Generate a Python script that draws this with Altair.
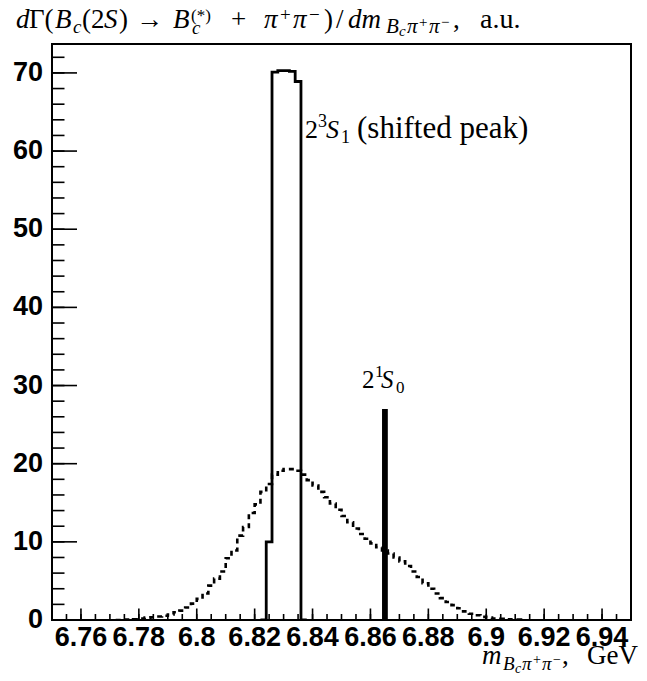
import altair as alt
import pandas as pd

# ---------------- data ----------------
# dotted histogram (broad distribution), bin width 0.002 GeV
dot_start = 6.774
dot_width = 0.002
dot_values = [0.05, 0.05, 0.1, 0.2, 0.3, 0.35, 0.45, 0.55, 0.7, 1.0,
              1.2, 1.6, 2.1, 2.7, 3.4, 4.4, 5.3, 6.2, 7.9, 8.9,
              10.8, 11.9, 13.7, 14.8, 16.4, 17.4, 18.6, 19.1, 19.3, 19.3,
              19.1, 18.6, 17.9, 17.2, 16.4, 15.7, 14.9, 14.1, 13.3, 12.5,
              11.7, 11.0, 10.4, 9.8, 9.3, 8.9, 8.5, 8.0, 7.5, 6.9,
              6.2, 5.5, 4.7, 4.0, 3.4, 2.8, 2.3, 1.9, 1.5, 1.1,
              0.8, 0.6, 0.4, 0.3, 0.2, 0.15, 0.1, 0.08, 0.05]

# solid histogram (2^3S_1 shifted peak)
solid_edges = [6.822, 6.824, 6.826, 6.828, 6.830, 6.832, 6.834, 6.836, 6.838]
solid_values = [0, 10.0, 70.1, 70.3, 70.3, 70.2, 68.9, 0, 0]

# 2^1S_0 line
line_lo, line_hi, line_val = 6.864, 6.866, 27.0

x_tick_vals = [6.76, 6.78, 6.80, 6.82, 6.84, 6.86, 6.88, 6.90, 6.92, 6.94]
x_tick_text = ["6.76", "6.78", "6.8", "6.82", "6.84", "6.86", "6.88", "6.9", "6.92", "6.94"]
y_tick_vals = [0, 10, 20, 30, 40, 50, 60, 70]
y_tick_text = ["0", "10", "20", "30", "40", "50", "60", "70"]

# ---------------- tables ----------------
dot_edges = [round(dot_start + i * dot_width, 4) for i in range(len(dot_values) + 1)]
df_dot = pd.DataFrame({
    "m": [dot_start - dot_width] + dot_edges,
    "v": [0.0] + dot_values + [0.0],
})
df_solid = pd.DataFrame({"m": solid_edges, "v": solid_values})
df_line = pd.DataFrame({"x0": [line_lo], "x1": [line_hi], "y0": [0], "y1": [line_val]})

x_minor = [round(6.755 + 0.005 * i, 4) for i in range(39)]
y_minor = [2 * i for i in range(37)]
df_xmaj = pd.DataFrame({"v": x_tick_vals, "t": x_tick_text})
df_xmin = pd.DataFrame({"v": x_minor})
df_ymaj = pd.DataFrame({"v": y_tick_vals, "t": y_tick_text})
df_ymin = pd.DataFrame({"v": y_minor})
one = pd.DataFrame({"a": [0]})

W, H = 579, 576
OX, OY = 52, 44  # page position of plot origin
xs = alt.Scale(domain=[6.75, 6.95], nice=False, zero=False)
ys = alt.Scale(domain=[0, 73.7], nice=False, zero=False)

layers = []
layers.append(
    alt.Chart(df_dot).mark_line(interpolate="step-after", strokeDash=[5, 4],
                                strokeWidth=2.6, color="black", clip=True)
    .encode(x=alt.X("m:Q", scale=xs, axis=None), y=alt.Y("v:Q", scale=ys, axis=None))
)
layers.append(
    alt.Chart(df_solid).mark_line(interpolate="step-after", strokeWidth=2.8,
                                  color="black", clip=True)
    .encode(x=alt.X("m:Q", scale=xs, axis=None), y=alt.Y("v:Q", scale=ys, axis=None))
)
layers.append(
    alt.Chart(df_line).mark_rect(color="black")
    .encode(x=alt.X("x0:Q", scale=xs, axis=None), x2="x1:Q",
            y=alt.Y("y0:Q", scale=ys, axis=None), y2="y1:Q")
)
# inward ticks
layers.append(
    alt.Chart(df_xmaj).mark_rule(color="black", strokeWidth=1.6)
    .encode(x=alt.X("v:Q", scale=xs, axis=None), y=alt.value(H), y2=alt.value(H - 11.5))
)
layers.append(
    alt.Chart(df_xmin).mark_rule(color="black", strokeWidth=1.6)
    .encode(x=alt.X("v:Q", scale=xs, axis=None), y=alt.value(H), y2=alt.value(H - 6))
)
layers.append(
    alt.Chart(df_ymaj).mark_rule(color="black", strokeWidth=1.6)
    .encode(y=alt.Y("v:Q", scale=ys, axis=None), x=alt.value(0), x2=alt.value(25))
)
layers.append(
    alt.Chart(df_ymin).mark_rule(color="black", strokeWidth=1.6)
    .encode(y=alt.Y("v:Q", scale=ys, axis=None), x=alt.value(0), x2=alt.value(12.5))
)
# tick labels
layers.append(
    alt.Chart(df_xmaj).mark_text(font="Liberation Sans", fontWeight="bold", fontSize=27,
                                 align="center", baseline="alphabetic", color="black")
    .encode(x=alt.X("v:Q", scale=xs, axis=None), y=alt.value(602), text="t:N")
)
layers.append(
    alt.Chart(df_ymaj).mark_text(font="Liberation Sans", fontWeight="bold", fontSize=27,
                                 align="right", baseline="middle", color="black")
    .encode(y=alt.Y("v:Q", scale=ys, axis=None), x=alt.value(-9), text="t:N")
)

# text pieces (math typeset piece by piece): text, page x, page baseline y, size, italic
IT, RM = True, False
pieces = [
    # title
    ("d", 16, 27.5, 27, IT), ("Γ(", 29, 27.5, 27, RM), ("B", 55, 27.5, 27, IT),
    ("c", 73, 32.5, 19, IT), ("(2", 82, 27.5, 27, RM), ("S", 104, 27.5, 27, IT),
    (")", 119, 27.5, 27, RM), ("→", 136, 27.5, 27, RM), ("B", 173, 27.5, 27, IT),
    ("(*)", 191, 20.5, 17, RM), ("c", 192, 33.5, 19, IT), ("+", 231, 27.5, 27, RM),
    ("π", 264, 27.5, 27, IT), ("+", 280, 20.5, 19, RM), ("π", 293, 27.5, 27, IT),
    ("−", 309, 20.5, 19, RM), (")", 324, 27.5, 27, RM), ("/", 336, 27.5, 27, RM),
    ("dm", 348, 27.5, 27, IT),
    ("B", 386, 33, 21, IT), ("c", 399, 36, 15, IT), ("π", 407, 33, 21, IT),
    ("+", 419, 27, 15, RM), ("π", 429, 33, 21, IT), ("−", 441, 27, 15, RM),
    (",", 453, 27.5, 27, RM), ("a.u.", 480, 27.5, 28, RM),
    # 2^3S_1 annotation
    ("2", 305, 138, 26, RM), ("3", 318, 127, 18, RM), ("S", 326, 138, 26, IT),
    ("1", 341, 143, 18, RM), ("(shifted peak)", 357, 138, 31, RM),
    # 2^1S_0 annotation
    ("2", 362, 388, 25, RM), ("1", 375, 377, 17, RM), ("S", 381, 388, 25, IT),
    ("0", 396, 393, 17, RM),
    # x-axis title
    ("m", 482, 664, 27, IT), ("B", 503, 670, 19, IT), ("c", 515, 673, 14, IT),
    ("π", 522, 670, 19, IT), ("+", 533, 664, 14, RM), ("π", 542, 670, 19, IT),
    ("−", 553, 664, 14, RM), (",", 562, 664, 27, RM), ("GeV", 587, 664, 27, RM),
]
for txt, px, py, sz, it in pieces:
    kw = dict(font="Liberation Serif", fontSize=sz, align="left", baseline="alphabetic",
              color="black")
    if it:
        kw["fontStyle"] = "italic"
    layers.append(
        alt.Chart(one).mark_text(**kw)
        .encode(x=alt.value(px - OX), y=alt.value(py - OY), text=alt.value(txt))
    )

chart = (
    alt.layer(*layers)
    .properties(width=W, height=H,
                padding={"left": 44, "top": 36, "right": 8, "bottom": 53},
                autosize=alt.AutoSizeParams(type="none"),
                background="white")
    .configure_view(stroke="black", strokeWidth=2)
)
chart.save("out.html", embed_options={"renderer": "svg", "actions": False})
